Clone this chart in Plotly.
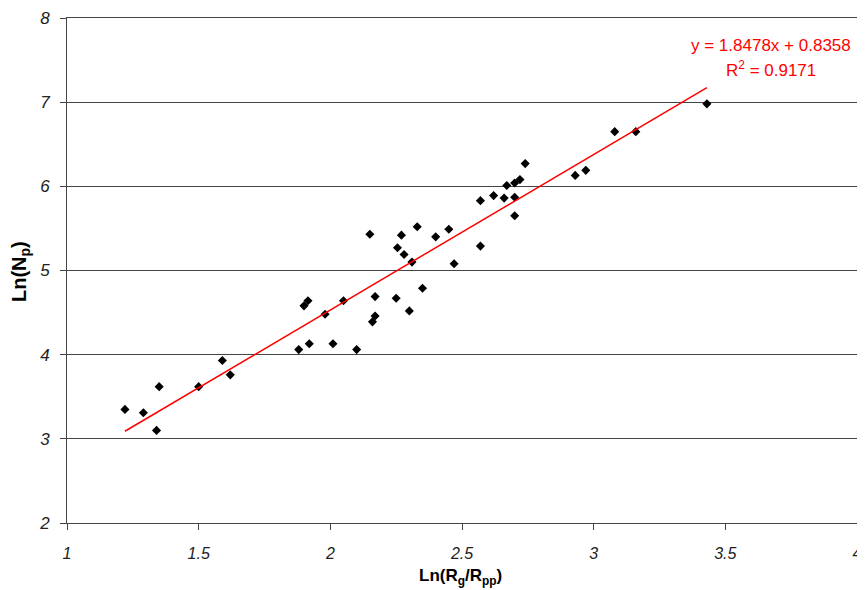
import plotly.graph_objects as go

ln_rg_rpp = [1.22, 1.29, 1.34, 1.35, 1.50, 1.59, 1.62, 1.88, 1.90, 1.915, 1.92, 1.98,
             2.01, 2.05, 2.10, 2.15, 2.16, 2.17, 2.17, 2.25, 2.255, 2.27, 2.28, 2.30,
             2.31, 2.33, 2.35, 2.40, 2.45, 2.47, 2.57, 2.57, 2.62, 2.66, 2.67, 2.70,
             2.70, 2.70, 2.72, 2.74, 2.93, 2.97, 3.08, 3.16, 3.43]
ln_np = [3.35, 3.31, 3.10, 3.62, 3.62, 3.93, 3.76, 4.06, 4.58, 4.64, 4.13, 4.48,
         4.13, 4.64, 4.06, 5.43, 4.39, 4.46, 4.69, 4.67, 5.27, 5.42, 5.19, 4.52,
         5.10, 5.52, 4.79, 5.40, 5.49, 5.08, 5.29, 5.83, 5.89, 5.86, 6.01, 6.04,
         5.87, 5.65, 6.08, 6.27, 6.13, 6.19, 6.65, 6.65, 6.98]

slope = 1.8478
intercept = 0.8358
r_squared = 0.9171

x_ticks = [1, 1.5, 2, 2.5, 3, 3.5, 4]
x_tick_text = ["1", "1.5", "2", "2.5", "3", "3.5", "4"]
y_ticks = [2, 3, 4, 5, 6, 7, 8]

font_family = "Liberation Sans, Arial, sans-serif"

x_line = [min(ln_rg_rpp), max(ln_rg_rpp)]
y_line = [slope * v + intercept for v in x_line]

fig = go.Figure()
fig.add_trace(go.Scatter(
    x=ln_rg_rpp, y=ln_np, mode="markers",
    marker=dict(symbol="diamond", size=7, color="black"),
    showlegend=False, cliponaxis=False))
fig.add_trace(go.Scatter(
    x=x_line, y=y_line, mode="lines",
    line=dict(color="#ff0000", width=1.5),
    showlegend=False))

eq_font = dict(family=font_family, size=17, color="#ff0000")
fig.add_annotation(
    xref="paper", yref="paper", x=0.891, y=0.9465,
    text=f"y = {slope:.4f}x + {intercept:.4f}",
    showarrow=False, xanchor="center", yanchor="middle", font=eq_font)
fig.add_annotation(
    xref="paper", yref="paper", x=0.891, y=0.899,
    text=f"R<sup>2</sup> = {r_squared:.4f}",
    showarrow=False, xanchor="center", yanchor="middle", font=eq_font)

# axis titles
fig.add_annotation(
    xref="paper", yref="paper", x=0.498, y=-0.107,
    text="Ln(R<sub>g</sub>/R<sub>pp</sub>)", showarrow=False,
    xanchor="center", yanchor="middle",
    font=dict(family=font_family, size=17, weight="bold", color="black"))
fig.add_annotation(
    xref="paper", yref="paper", x=-0.0595, y=0.499,
    text="Ln(N<sub>p</sub>)", showarrow=False, textangle=-90,
    xanchor="center", yanchor="middle",
    font=dict(family=font_family, size=20, weight="bold", color="black"))

fig.update_layout(
    width=857, height=582,
    margin=dict(l=59, r=8, t=10, b=67),
    paper_bgcolor="white", plot_bgcolor="white",
    font=dict(family=font_family, color="black"),
    xaxis=dict(
        range=[1, 4], tickvals=x_ticks, ticktext=x_tick_text,
        ticks="outside", ticklen=6, tickcolor="#444",
        showline=True, linecolor="#444", linewidth=1, mirror=True,
        showgrid=False, zeroline=False, automargin=False,
        ticklabelstandoff=10,
        tickfont=dict(family=font_family, size=16, style="italic", color="#222"),
    ),
    yaxis=dict(
        range=[2, 8], tickvals=y_ticks,
        ticks="outside", ticklen=6, tickcolor="#444",
        showline=True, linecolor="#444", linewidth=1, mirror=True,
        showgrid=True, gridcolor="#444", gridwidth=1, zeroline=False,
        automargin=False, ticklabelstandoff=7,
        tickfont=dict(family=font_family, size=17, style="italic", color="#222"),
    ),
)

fig.write_html("out.html")
